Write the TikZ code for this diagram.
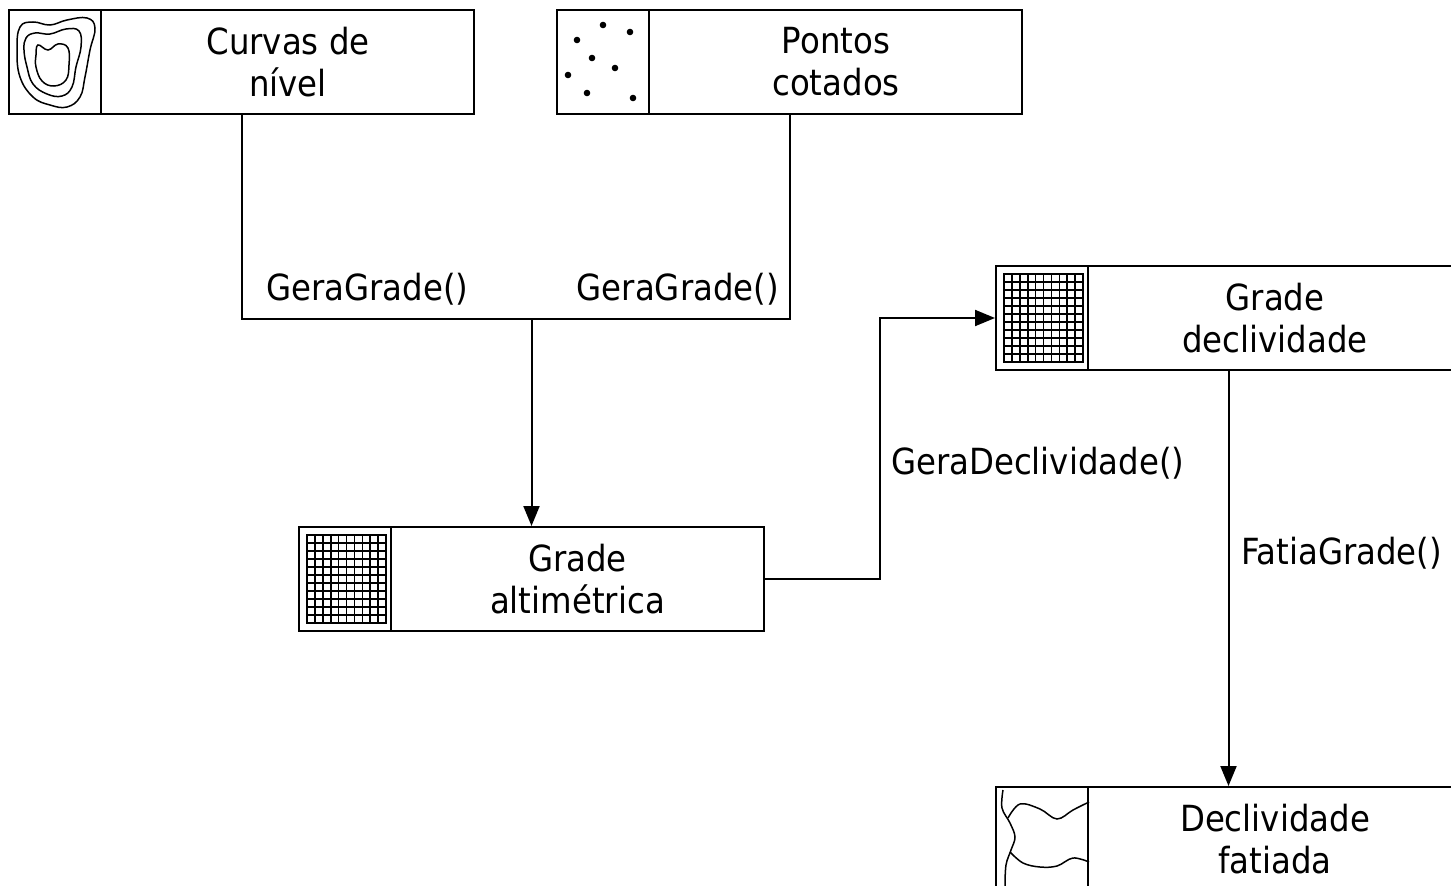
\documentclass[tikz,border=0pt]{standalone}
\usepackage{fontspec}
\setmainfont{DejaVu Sans}[FakeStretch=0.9]
\usetikzlibrary{arrows.meta}
\begin{document}
\begin{tikzpicture}[x=1pt,y=-1pt,line width=2pt,
  box/.style={draw,line width=2pt,minimum width=465pt,minimum height=104pt,inner sep=0pt},
  lbl/.style={font=\fontsize{36}{42}\selectfont,align=center,inner sep=0pt},
  arr/.style={-{Triangle[length=20pt,width=16pt]},line width=2pt},
  contour/.style={line width=1.5pt},
  gridicon/.pic={
    \draw[line width=2.2pt] (-39.5,-44) rectangle (39.5,44);
    \foreach \i in {1,...,9} \draw[line width=1.6pt] (-39.5+7.9*\i,-44) -- (-39.5+7.9*\i,44);
    \foreach \j in {1,...,10} \draw[line width=1.6pt] (-39.5,-44+8*\j) -- (39.5,-44+8*\j);
  }]
\clip (0,0) rectangle (1451,886);
\fill[white] (0,0) rectangle (1451,886);
% boxes
\node[box] (c1) at (241.5,62) {};
\node[box] (c2) at (789.5,62) {};
\node[box] (c3) at (531.5,579) {};
\node[box] (c4) at (1228.5,318) {};
\node[box] (c5) at (1228.5,839) {};
\foreach \b in {c1,c2,c3,c4,c5}
  \draw ([xshift=93pt]\b.north west) -- ([xshift=93pt]\b.south west);
% texts
\node[lbl] (c1t) at (288,62) {Curvas de\\nível};
\node[lbl] (c2t) at (836,62) {Pontos\\cotados};
\node[lbl] (c3t) at (577.5,579) {Grade\\altimétrica};
\node[lbl] (c4t) at (1275,318) {Grade\\declividade};
\node[lbl] (c5t) at (1275,839) {Declividade\\fatiada};
% icons
\draw[contour] plot[smooth cycle,tension=0.7] coordinates {(20,27) (33,22) (50,25) (67,20) (87,18) (95,28) (90,50) (85,77) (80,97) (67,107) (50,105) (33,97) (20,77) (17,50)};
\draw[contour] plot[smooth cycle,tension=0.7] coordinates {(26,38) (35,33) (50,34) (66,29) (79,31) (81,47) (76,67) (72,87) (62,96) (47,94) (33,84) (27,67) (24,50)};
\draw[contour] plot[smooth cycle,tension=0.7] coordinates {(38,45) (48,50) (58,44) (68,48) (69,65) (66,80) (54,86) (42,81) (36,67) (36,55)};
\foreach \p in {(603,25),(630,32),(577,40),(592,58),(615,68),(568,75),(587,93),(633,98)}
  \fill \p circle (3.3pt);
\pic at (346.5,579) {gridicon};
\pic at (1043.5,318) {gridicon};
\draw[contour] plot[smooth,tension=0.6] coordinates {(1003,790) (1002,808) (1010,823) (1015,837) (1011,850) (1006,865) (1005,886)};
\draw[contour] plot[smooth,tension=0.6] coordinates {(1008,818) (1020,804) (1040,809) (1057,819) (1073,810) (1089,802)};
\draw[contour] plot[smooth,tension=0.6] coordinates {(1010,852) (1023,863) (1040,867) (1057,866) (1073,858) (1089,862)};
% connectors
\coordinate (j) at (531.5,319);
\coordinate (b1) at (880,579);
\draw (c1.south) |- (j) -| (c2.south);
\draw[arr] (j) -- (c3.north);
\draw[arr] (c3.east) -- (b1) |- (c4.west);
\draw[arr] (c4.south) -- (c5.north);
% labels
\node[lbl,anchor=west] (g1) at (265,289) {GeraGrade()};
\node[lbl,anchor=east] (g2) at (780,289) {GeraGrade()};
\node[lbl,anchor=west] (g3) at (890,463) {GeraDeclividade()};
\node[lbl,anchor=west] (g4) at (1240,553) {FatiaGrade()};
\end{tikzpicture}
\end{document}
